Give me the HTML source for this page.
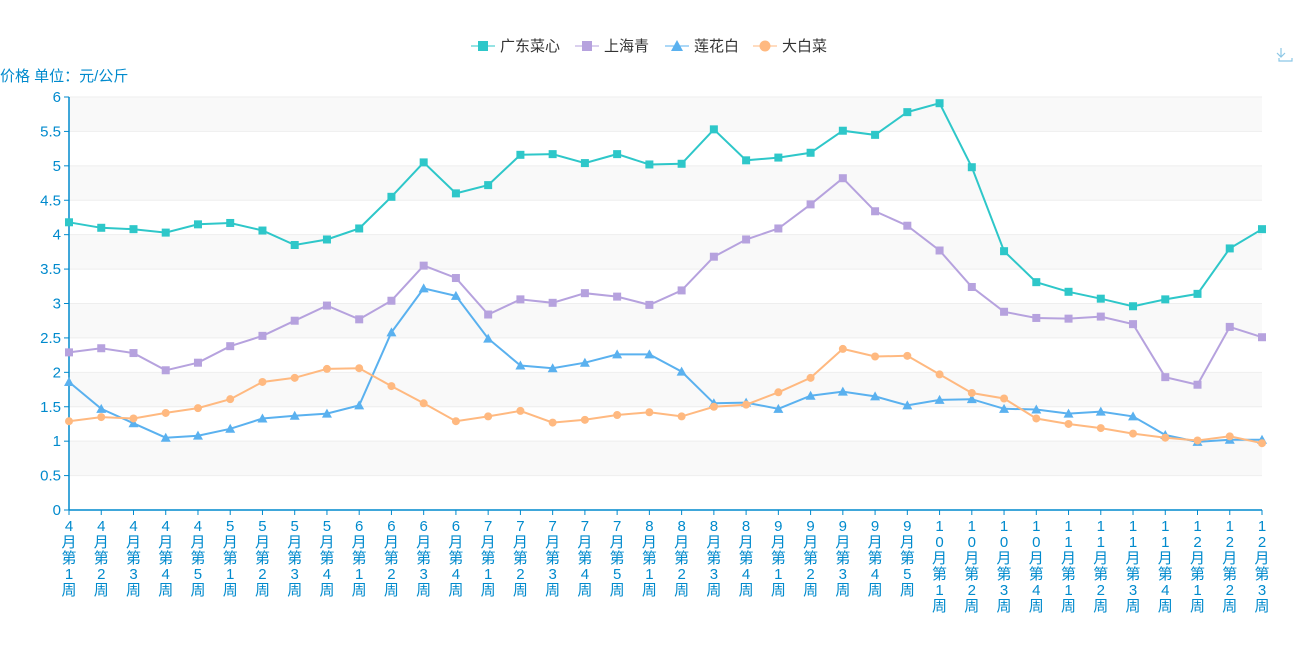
<!DOCTYPE html>
<html><head><meta charset="utf-8"><style>
html,body{margin:0;padding:0;background:#fff;width:1300px;height:650px;overflow:hidden}
svg text{font-family:"Liberation Sans","Noto Sans CJK SC",sans-serif}
</style></head><body>
<svg id="c" width="1300" height="650" xmlns="http://www.w3.org/2000/svg">
<text x="0" y="81" font-size="15" fill="#008acd">价格 单位：元/公斤</text>
<g id="legend" font-size="15" fill="#333">
<line x1="471" y1="46" x2="495" y2="46" stroke="#2ec7c9" stroke-width="1"/><rect x="478" y="41" width="10" height="10" fill="#2ec7c9"/><text x="500" y="51">广东菜心</text>
<line x1="575" y1="46" x2="599" y2="46" stroke="#b6a2de"/><rect x="582" y="41" width="10" height="10" fill="#b6a2de"/><text x="604" y="51">上海青</text>
<line x1="665" y1="46" x2="689" y2="46" stroke="#5ab1ef"/><path d="M677 40 L683 51 L671 51Z" fill="#5ab1ef"/><text x="694" y="51">莲花白</text>
<line x1="753" y1="46" x2="777" y2="46" stroke="#ffb980"/><circle cx="765" cy="46" r="5.5" fill="#ffb980"/><text x="782" y="51">大白菜</text>
</g>
<g stroke="#8cc7e6" fill="none" stroke-width="1.2"><path d="M1281 48 v9 M1277 53 l4 4 l4 -4 M1279 58 v3 h13 v-3"/></g>
</svg>
<script>
var s=document.getElementById('c'),NS='http://www.w3.org/2000/svg';
function el(t,a,tx){var e=document.createElementNS(NS,t);for(var k in a)e.setAttribute(k,a[k]);if(tx!=null)e.textContent=tx;s.appendChild(e);return e;}
var x0=69,x1=1262,yT=97,yB=510,n=38,dx=(x1-x0)/(n-1),ky=(yB-yT)/6;
function X(i){return x0+i*dx}function Y(v){return yB-v*ky}
for(var k=0;k<12;k++){var ya=yT+k*ky/2;el('rect',{x:x0,y:ya,width:x1-x0,height:ky/2,fill:k%2==0?'#f9f9f9':'#ffffff'});}
for(var k=0;k<=12;k++){var ya=yT+k*ky/2;el('line',{x1:x0,x2:x1,y1:ya,y2:ya,stroke:'#eee'});}
el('line',{x1:x0,x2:x0,y1:yT,y2:yB,stroke:'#008acd','stroke-width':1.5});
el('line',{x1:x0,x2:x1,y1:yB,y2:yB,stroke:'#008acd','stroke-width':1.5});
var yl=['0','0.5','1','1.5','2','2.5','3','3.5','4','4.5','5','5.5','6'];
for(var k=0;k<13;k++){var ya=yB-k*ky/2;el('line',{x1:x0-5,x2:x0,y1:ya,y2:ya,stroke:'#008acd'});el('text',{x:x0-8,y:ya+5,'text-anchor':'end','font-size':15,fill:'#008acd'},yl[k]);}
var labs=[];var months=[[4,5],[5,4],[6,4],[7,5],[8,4],[9,5],[10,4],[11,4],[12,3]];
months.forEach(function(m){for(var w=1;w<=m[1];w++)labs.push(String(m[0]).split('').concat(['月','第',String(w),'周']));});
for(var i=0;i<n;i++){var xa=X(i);el('line',{x1:xa,x2:xa,y1:yB,y2:yB+5,stroke:'#008acd'});
labs[i].forEach(function(ch,j){el('text',{x:xa,y:531+j*16,'text-anchor':'middle','font-size':15,fill:'#008acd'},ch);});}
var D=[
['#2ec7c9','sq',[4.18,4.1,4.08,4.03,4.15,4.17,4.06,3.85,3.93,4.09,4.55,5.05,4.6,4.72,5.16,5.17,5.04,5.17,5.02,5.03,5.53,5.08,5.12,5.19,5.51,5.45,5.78,5.91,4.98,3.76,3.31,3.17,3.07,2.96,3.06,3.14,3.8,4.08]],
['#b6a2de','sq',[2.29,2.35,2.28,2.03,2.14,2.38,2.53,2.75,2.97,2.77,3.04,3.55,3.37,2.84,3.06,3.01,3.15,3.1,2.98,3.19,3.68,3.93,4.09,4.44,4.82,4.34,4.13,3.77,3.24,2.88,2.79,2.78,2.81,2.7,1.93,1.82,2.66,2.51]],
['#5ab1ef','tri',[1.86,1.47,1.26,1.05,1.08,1.18,1.33,1.37,1.4,1.52,2.58,3.22,3.11,2.49,2.1,2.06,2.14,2.26,2.26,2.01,1.55,1.56,1.47,1.66,1.72,1.65,1.52,1.6,1.61,1.47,1.46,1.4,1.43,1.36,1.09,0.99,1.02,1.02]],
['#ffb980','c',[1.29,1.35,1.33,1.41,1.48,1.61,1.86,1.92,2.05,2.06,1.8,1.55,1.29,1.36,1.44,1.27,1.31,1.38,1.42,1.36,1.5,1.53,1.71,1.92,2.34,2.23,2.24,1.97,1.7,1.62,1.33,1.25,1.19,1.11,1.05,1.01,1.07,0.97]]];
D.forEach(function(d){var p=d[2].map(function(v,i){return X(i).toFixed(1)+','+Y(v).toFixed(1)}).join(' ');
el('polyline',{points:p,fill:'none',stroke:d[0],'stroke-width':2});
d[2].forEach(function(v,i){var xa=X(i),ya=Y(v);
if(d[1]=='sq')el('rect',{x:xa-4,y:ya-4,width:8,height:8,fill:d[0]});
else if(d[1]=='tri')el('path',{d:'M'+xa+' '+(ya-5)+' L'+(xa+5)+' '+(ya+4)+' L'+(xa-5)+' '+(ya+4)+'Z',fill:d[0]});
else el('circle',{cx:xa,cy:ya,r:4,fill:d[0]});});});
</script>
</body></html>
